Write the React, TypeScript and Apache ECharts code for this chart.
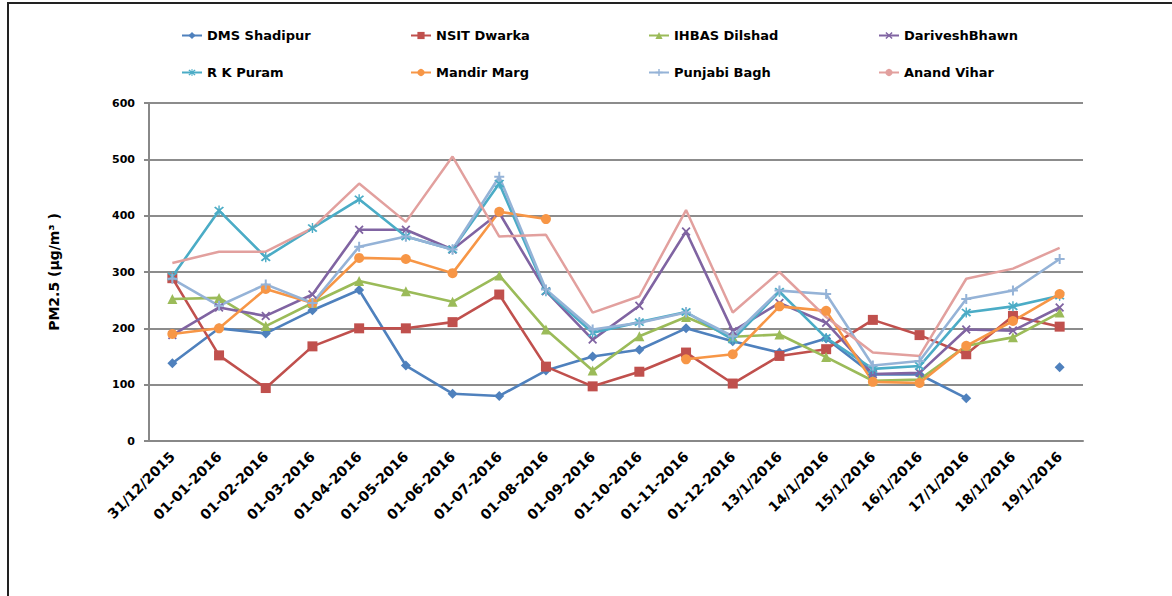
import React, { useEffect, useRef } from "react";
import * as echarts from "echarts";

const categories = [
  "31/12/2015", "01-01-2016", "01-02-2016", "01-03-2016", "01-04-2016",
  "01-05-2016", "01-06-2016", "01-07-2016", "01-08-2016", "01-09-2016",
  "01-10-2016", "01-11-2016", "01-12-2016", "13/1/2016", "14/1/2016",
  "15/1/2016", "16/1/2016", "17/1/2016", "18/1/2016", "19/1/2016",
];

const dmsShadipur = [138, 200, 191, 232, 268, 134, 84, 80, 125, 150, 162, 200, 177, 157, 182, 118, 118, 76, null, 131];
const nsitDwarka = [289, 152, 94, 168, 200, 200, 211, 260, 132, 97, 123, 157, 102, 151, 163, 215, 188, 154, 222, 203];
const ihbasDilshad = [252, 254, 204, 245, 284, 266, 247, 294, 198, 125, 186, 220, 185, 189, 149, 107, 109, 169, 184, 228];
const dariveshBhawn = [188, 237, 222, 260, 375, 375, 340, 405, 266, 180, 240, 372, 195, 245, 210, 119, 121, 198, 196, 237];
const rkPuram = [292, 409, 326, 378, 429, 363, 340, 457, 266, 192, 211, 229, 180, 265, 183, 128, 133, 228, 239, 258];
const mandirMarg = [190, 200, 270, 245, 325, 323, 298, 407, 394, null, null, 145, 154, 239, 231, 105, 103, 169, 213, 261];
const punjabiBagh = [288, 240, 278, 245, 345, 363, 340, 469, 269, 198, 210, 228, 186, 267, 261, 134, 142, 252, 267, 323];
const anandVihar = [316, 336, 336, 378, 457, 389, 505, 363, 366, 228, 257, 410, 228, 300, 220, 157, 151, 288, 306, 343];

const seriesNames = [
  "DMS Shadipur", "NSIT Dwarka", "IHBAS Dilshad", "DariveshBhawn",
  "R K Puram", "Mandir Marg", "Punjabi Bagh", "Anand Vihar",
];
const yTicks = [0, 100, 200, 300, 400, 500, 600];

const plusPath = "path://M4,0H6V4H10V6H6V10H4V6H0V4H4Z";
const xPath = "path://M1.4,0L5,3.6L8.6,0L10,1.4L6.4,5L10,8.6L8.6,10L5,6.4L1.4,10L0,8.6L3.6,5L0,1.4Z";
const starPath =
  "path://M1.4,0L5,3.6L8.6,0L10,1.4L6.4,5L10,8.6L8.6,10L5,6.4L1.4,10L0,8.6L3.6,5L0,1.4Z M4.3,-1H5.7V11H4.3Z";

export default function App() {
  const ref = useRef<HTMLDivElement>(null);
  useEffect(() => {
    document.body.style.margin = "0";
    if (!ref.current) return;
    const chart = echarts.init(ref.current, undefined, { renderer: "svg" });
    const font = "DejaVu Sans";
    const mk = (
      name: string,
      data: (number | null)[],
      color: string,
      symbol: string,
      size: number,
      width = 2.6
    ) => ({
      name,
      type: "line",
      data,
      color,
      symbol,
      symbolSize: size,
      showSymbol: symbol !== "none",
      connectNulls: false,
      lineStyle: { width, color },
      itemStyle: { color, borderWidth: 0 },
    });
    const colLefts = [176, 405, 643, 873];
    const rowTops = [24, 61];
    const legends = seriesNames.map((n, i) => ({
      left: colLefts[i % 4],
      top: rowTops[Math.floor(i / 4)],
      itemWidth: 20,
      itemHeight: 9,
      itemGap: 4,
      textStyle: {
        fontFamily: font,
        fontWeight: "bold",
        fontSize: 13,
        color: "#000",
      },
      data: [n],
    }));
    chart.setOption({
      animation: false,
      backgroundColor: "#fff",
      textStyle: { fontFamily: font },
      graphic: [
        { type: "line", shape: { x1: 7, y1: 3, x2: 1172, y2: 3 }, style: { stroke: "#222", lineWidth: 2 } },
        { type: "line", shape: { x1: 8, y1: 3, x2: 8, y2: 596 }, style: { stroke: "#222", lineWidth: 2 } },
      ],
      legend: legends,
      grid: { left: 149, right: 89, top: 103, bottom: 155, containLabel: false },
      xAxis: {
        type: "category",
        data: categories,
        boundaryGap: true,
        axisLine: { lineStyle: { color: "#888", width: 2 } },
        axisTick: { show: false },
        axisLabel: {
          interval: 0,
          rotate: 45,
          fontFamily: font,
          fontWeight: "bold",
          fontSize: 14,
          color: "#000",
          margin: 13,
        },
      },
      yAxis: {
        type: "value",
        min: 0,
        max: 600,
        interval: 100,
        name: "PM2.5 (μg/m³ )",
        nameLocation: "middle",
        nameGap: 88,
        nameTextStyle: { fontFamily: font, fontWeight: "bold", fontSize: 14, color: "#000" },
        axisLine: { show: true, lineStyle: { color: "#888", width: 2 } },
        axisTick: { show: true, length: 5, lineStyle: { color: "#888", width: 2 } },
        axisLabel: {
          fontFamily: font,
          fontWeight: "bold",
          fontSize: 11,
          color: "#000",
          margin: 14,
          formatter: (v: number) => (yTicks.includes(v) ? String(v) : ""),
        },
        splitLine: { lineStyle: { color: "#8c8c8c", width: 2 } },
      },
      series: [
        mk(seriesNames[0], dmsShadipur, "#4F81BD", "diamond", 10),
        mk(seriesNames[1], nsitDwarka, "#C0504D", "rect", 10),
        mk(seriesNames[2], ihbasDilshad, "#9BBB59", "triangle", 10),
        mk(seriesNames[3], dariveshBhawn, "#8064A2", xPath, 9),
        mk(seriesNames[4], rkPuram, "#4BACC6", starPath, 10),
        mk(seriesNames[5], mandirMarg, "#F79646", "circle", 10),
        mk(seriesNames[6], punjabiBagh, "#95B3D7", plusPath, 10),
        mk(seriesNames[7], anandVihar, "#E2A09E", "none", 0, 2.5),
      ],
    });
    return () => chart.dispose();
  }, []);
  return <div ref={ref} style={{ width: 1172, height: 596 }} />;
}
